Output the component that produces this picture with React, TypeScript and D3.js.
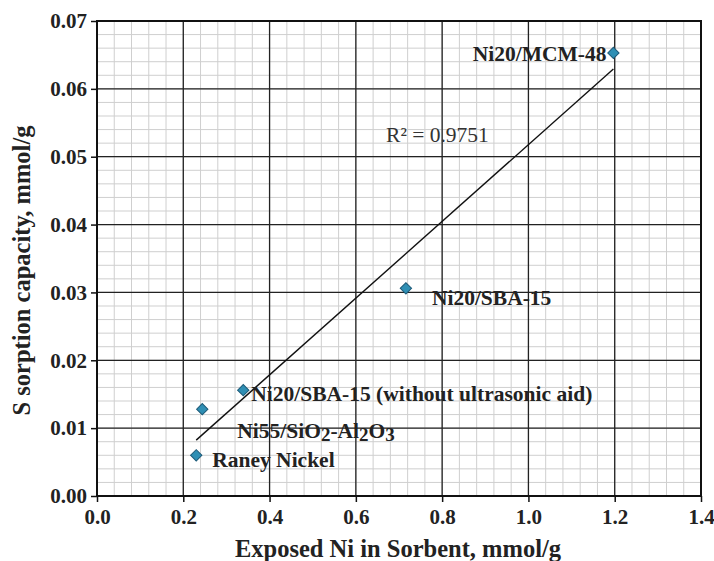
import React, { useEffect, useRef } from 'react';
import * as d3 from 'd3';

// Sample names and their measured values
const samples = ['Raney Nickel', 'Ni55/SiO2-Al2O3', 'Ni20/SBA-15 (without ultrasonic aid)', 'Ni20/SBA-15', 'Ni20/MCM-48'];
const exposedNi = [0.23, 0.244, 0.339, 0.716, 1.197];
const sorption = [0.006, 0.0128, 0.0156, 0.0306, 0.0653];

const xTicks = [0, 0.2, 0.4, 0.6, 0.8, 1.0, 1.2, 1.4];
const yTicks = [0, 0.01, 0.02, 0.03, 0.04, 0.05, 0.06, 0.07];

// label placement relative to each marker (dx, dy, anchor)
const labelPos: [number, number, string][] = [
   [16, 12, 'start'],
   [35, 29, 'start'],
   [8, 11, 'start'],
   [26, 17, 'start'],
   [-7, 8, 'end'],
];

const App: React.FC = () => {
   const svgRef = useRef<SVGSVGElement | null>(null);
   const width = 714;
   const height = 561;

   useEffect(() => {
      if (!svgRef.current) return;
      const svg = d3.select(svgRef.current);
      svg.selectAll('*').remove();

      const margin = { top: 21, right: 13, bottom: 65, left: 97 };
      const innerWidth = width - margin.left - margin.right;
      const innerHeight = height - margin.top - margin.bottom;
      const font = 'Liberation Serif, DejaVu Serif, serif';

      const x = d3.scaleLinear().domain([0, 1.4]).range([0, innerWidth]);
      const y = d3.scaleLinear().domain([0, 0.07]).range([innerHeight, 0]);

      const g = svg.append('g').attr('transform', `translate(${margin.left},${margin.top})`);

      // minor grid
      const minorX = d3.range(0, 1.4001, 0.04);
      const minorY = d3.range(0, 0.07001, 0.002);
      g.selectAll('.minor-x')
         .data(minorX)
         .enter()
         .append('line')
         .attr('x1', d => x(d)).attr('x2', d => x(d))
         .attr('y1', 0).attr('y2', innerHeight)
         .attr('stroke', '#cfcfcf').attr('stroke-width', 1);
      g.selectAll('.minor-y')
         .data(minorY)
         .enter()
         .append('line')
         .attr('y1', d => y(d)).attr('y2', d => y(d))
         .attr('x1', 0).attr('x2', innerWidth)
         .attr('stroke', '#cfcfcf').attr('stroke-width', 1);

      // major grid
      g.selectAll('.major-x')
         .data(xTicks)
         .enter()
         .append('line')
         .attr('x1', d => x(d)).attr('x2', d => x(d))
         .attr('y1', 0).attr('y2', innerHeight)
         .attr('stroke', '#222').attr('stroke-width', 1.3);
      g.selectAll('.major-y')
         .data(yTicks)
         .enter()
         .append('line')
         .attr('y1', d => y(d)).attr('y2', d => y(d))
         .attr('x1', 0).attr('x2', innerWidth)
         .attr('stroke', '#222').attr('stroke-width', 1.3);

      g.append('rect')
         .attr('width', innerWidth).attr('height', innerHeight)
         .attr('fill', 'none').attr('stroke', '#111').attr('stroke-width', 2);

      // axes
      const xAxis = g.append('g')
         .attr('transform', `translate(0,${innerHeight})`)
         .call(d3.axisBottom(x).tickValues(xTicks).tickSize(6).tickFormat(d3.format('.1f')));
      const yAxis = g.append('g')
         .call(d3.axisLeft(y).tickValues(yTicks).tickSize(6).tickFormat(d3.format('.2f')));
      [xAxis, yAxis].forEach(a => {
         a.attr('font-family', font).attr('font-size', 21);
         a.select('.domain').remove();
         a.selectAll('line').attr('stroke', '#111').attr('stroke-width', 1.5);
         a.selectAll('text')
            .attr('fill', '#222')
            .style('font-family', font)
            .attr('font-weight', 'bold')
            .attr('font-size', 21);
      });
      xAxis.selectAll('text').attr('dy', '0.92em');
      yAxis.selectAll('text').attr('dx', '-0.05em');

      // trendline (least squares)
      const mx = d3.mean(exposedNi)!;
      const my = d3.mean(sorption)!;
      const sxy = d3.sum(exposedNi, (v, i) => (v - mx) * (sorption[i] - my));
      const sxx = d3.sum(exposedNi, v => (v - mx) ** 2);
      const slope = sxy / sxx;
      const icpt = my - slope * mx;
      const x0 = d3.min(exposedNi)!;
      const x1 = d3.max(exposedNi)!;
      g.append('line')
         .attr('x1', x(x0)).attr('y1', y(slope * x0 + icpt))
         .attr('x2', x(x1)).attr('y2', y(slope * x1 + icpt))
         .attr('stroke', '#111').attr('stroke-width', 1.4);

      g.append('text')
         .attr('x', x(0.67)).attr('y', y(0.0521))
         .style('font-family', font).attr('font-size', 21.5).attr('fill', '#333')
         .text('R² = 0.9751');

      // markers: square rotated 45 degrees
      const diamond = d3.symbol().type(d3.symbolSquare).size(64);
      g.selectAll('.pt')
         .data(samples)
         .enter()
         .append('path')
         .attr('d', diamond)
         .attr('transform', (_, i) => `translate(${x(exposedNi[i])},${y(sorption[i])}) rotate(45)`)
         .attr('fill', '#2f8fb4')
         .attr('stroke', '#1d5a78')
         .attr('stroke-width', 1);

      // labels
      samples.forEach((name, i) => {
         const [dx, dy, anchor] = labelPos[i];
         const t = g.append('text')
            .attr('x', x(exposedNi[i]) + dx)
            .attr('y', y(sorption[i]) + dy)
            .attr('text-anchor', anchor)
            .style('font-family', font)
            .attr('font-weight', 'bold')
            .attr('font-size', 21.5)
            .attr('fill', '#222');
         if (name === 'Ni55/SiO2-Al2O3') {
            const parts: [string, boolean][] = [['Ni55/SiO', false], ['2', true], ['-Al', false], ['2', true], ['O', false], ['3', true]];
            parts.forEach(([s, sub]) => {
               t.append('tspan')
                  .attr('baseline-shift', sub ? '-18%' : '0')
                  .attr('font-size', sub ? 19 : 21.5)
                  .text(s);
            });
         } else {
            t.text(name);
         }
      });

      // axis titles
      svg.append('text')
         .attr('x', 398)
         .attr('y', 557)
         .attr('text-anchor', 'middle')
         .style('font-family', font).attr('font-weight', 'bold').attr('font-size', 24.5)
         .attr('fill', '#222')
         .text('Exposed Ni in Sorbent, mmol/g');
      svg.append('text')
         .attr('transform', `translate(30,${margin.top + innerHeight / 2 + 12}) rotate(-90)`)
         .attr('text-anchor', 'middle')
         .style('font-family', font).attr('font-weight', 'bold').attr('font-size', 24.5)
         .attr('fill', '#222')
         .text('S sorption capacity, mmol/g');
   }, []);

   return (
      <svg
         ref={svgRef}
         width={width}
         height={height}
         style={{ position: 'absolute', left: 0, top: 0, background: '#fff' }}
      />
   );
};

export default App;
